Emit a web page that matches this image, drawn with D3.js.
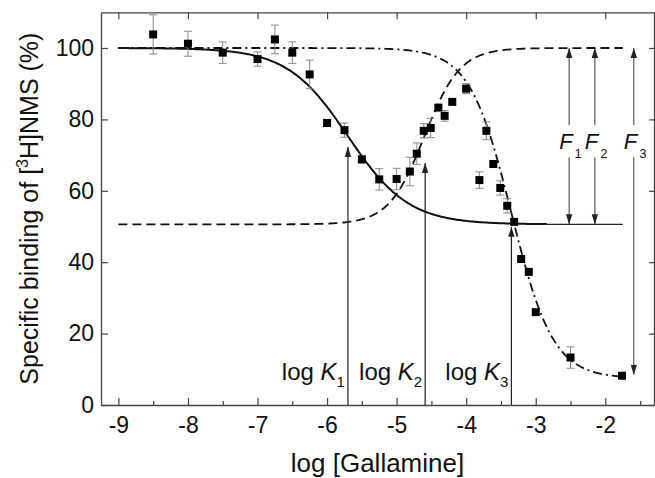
<!DOCTYPE html>
<html><head><meta charset="utf-8">
<script src="https://cdn.jsdelivr.net/npm/d3@7"></script>
<style>
body{margin:0;background:#fff}
svg{display:block}
text{font-family:"Liberation Sans",Arial,sans-serif;fill:#111}
</style>
</head><body>
<svg id="c" width="655" height="478"></svg>
<script>
// ---- data ----
const logConc = [-8.5,-8.0,-7.5,-7.0,-6.75,-6.5,-6.25,-6.0,-5.75,-5.5,-5.25,-5.0,-4.81,-4.71,-4.61,-4.51,-4.40,-4.31,-4.20,-4.0,-3.81,-3.71,-3.61,-3.51,-3.41,-3.31,-3.21,-3.10,-3.0,-2.5,-1.76];
const binding = [103.8,101.2,98.7,96.9,102.4,98.7,92.6,79.0,77.0,68.8,63.2,63.3,65.4,70.4,76.8,77.6,83.3,81.0,84.9,88.6,63.0,76.8,67.5,60.8,55.8,51.3,40.9,37.3,26.0,13.3,8.2];
const sem = [5.5,3.5,3,2,4,3,4,1,2,1,3,3,4,3,2,2.7,0,1.5,0,1.4,2.3,2.5,0,2,2,0,0,0,0,3,0];
const xTicks = [-9,-8,-7,-6,-5,-4,-3,-2];
const xMinor = [-8.5,-7.5,-6.5,-5.5,-4.5,-3.5,-2.5,-1.5];
const yTicks = [0,20,40,60,80,100];
// fitted curves: [top, bottom, logK, slope, xStart, xEnd]
const curveSolid = [100, 50.6, -5.70, 1.0, -9.0, -2.84];
const curveDash  = [50.6, 100, -4.60, 1.7, -9.0, -1.75];
const curveDashDot = [100, 7.5, -3.35, 1.45, -9.0, -1.75];
const kNames = ["1","2","3"];
const logK = [-5.70, -4.59, -3.35];
const kTip = [72.3, 67.8, 49.9];
const fNames = ["1","2","3"];
const fX = [-2.52, -2.15, -1.59];
const fLow = [50.6, 50.6, 8.5];
const fHigh = [100, 100, 100];
const plateau = 50.6;

// ---- layout ----
const svg = d3.select("#c");
const L = 101, R = 654, T = 12.3, B = 405;
const x = d3.scaleLinear().domain([-9.25, -1.30]).range([L, R]);
const y = d3.scaleLinear().domain([0, 110]).range([B, T]);
const frameCol = "#444";
const FONT = "Liberation Sans, Arial, sans-serif";

svg.append("defs").append("marker")
  .attr("id","ah").attr("viewBox","0 0 10 10").attr("refX",10).attr("refY",5)
  .attr("markerWidth",10).attr("markerHeight",10).attr("markerUnits","userSpaceOnUse")
  .attr("orient","auto-start-reverse")
  .append("path").attr("d","M0,1.8 L10,5 L0,8.2 Z").attr("fill","#222");

function styleAxis(g){
  g.selectAll(".domain").attr("stroke",frameCol).attr("stroke-width",1.3);
  g.selectAll(".tick line").attr("stroke",frameCol).attr("stroke-width",1.2);
}
// bottom
const gb = svg.append("g").attr("transform",`translate(0,${B})`)
  .call(d3.axisBottom(x).tickValues(xTicks).tickFormat(d=>String(d)).tickSizeInner(-7).tickSizeOuter(0).tickPadding(12));
styleAxis(gb);
gb.selectAll("text").attr("font-size",23).attr("fill","#111").attr("font-family",FONT);
const gbm = svg.append("g").attr("transform",`translate(0,${B})`)
  .call(d3.axisBottom(x).tickValues(xMinor).tickFormat("").tickSizeInner(-4).tickSizeOuter(0));
styleAxis(gbm); gbm.select(".domain").remove();
// top
const gt = svg.append("g").attr("transform",`translate(0,${T})`)
  .call(d3.axisTop(x).tickValues(xTicks).tickFormat("").tickSizeInner(-7).tickSizeOuter(0));
styleAxis(gt);
// left
const gl = svg.append("g").attr("transform",`translate(${L},0)`)
  .call(d3.axisLeft(y).tickValues(yTicks).tickSizeInner(-7).tickSizeOuter(0).tickPadding(7));
styleAxis(gl);
gl.selectAll("text").attr("font-size",23).attr("fill","#111").attr("font-family",FONT);
// right
const gr = svg.append("g").attr("transform",`translate(${R},0)`)
  .call(d3.axisRight(y).tickValues(yTicks).tickFormat("").tickSizeInner(-5).tickSizeOuter(0));
styleAxis(gr);

// ---- curves ----
function logistic(p){
  const [a,b,k,n,x0,x1] = p;
  return d3.range(0,301).map(i=>{
    const xv = x0 + (x1-x0)*i/300;
    return [xv, b + (a-b)/(1+Math.pow(10,(xv-k)*n))];
  });
}
const line = d3.line().x(d=>x(d[0])).y(d=>y(d[1]));
svg.append("path").attr("d",line(logistic(curveDashDot))).attr("fill","none")
  .attr("stroke","#111").attr("stroke-width",1.8).attr("stroke-dasharray","9,4,2,4");
svg.append("path").attr("d",line(logistic(curveDash))).attr("fill","none")
  .attr("stroke","#111").attr("stroke-width",1.8).attr("stroke-dasharray","9,5");
svg.append("path").attr("d",line(logistic(curveSolid))).attr("fill","none")
  .attr("stroke","#111").attr("stroke-width",2);
// thin plateau reference line
svg.append("line").attr("x1",x(curveSolid[5])).attr("x2",x(-1.75))
  .attr("y1",y(plateau)).attr("y2",y(plateau)).attr("stroke","#222").attr("stroke-width",1.2);

// ---- K arrows ----
logK.forEach((k,i)=>{
  svg.append("line").attr("x1",x(k)).attr("x2",x(k)).attr("y1",B).attr("y2",y(kTip[i]))
    .attr("stroke","#222").attr("stroke-width",1.2).attr("marker-end","url(#ah)");
  const t = svg.append("text").attr("x",x(k)-3).attr("y",380).attr("text-anchor","end").attr("font-size",24);
  t.append("tspan").text("log ");
  t.append("tspan").attr("font-style","italic").text("K");
  t.append("tspan").attr("font-size",15).attr("dy",7).text(kNames[i]);
});

// ---- F arrows ----
fX.forEach((fx,i)=>{
  const gapTop = 78.4, gapBot = 69.4;
  svg.append("line").attr("x1",x(fx)).attr("x2",x(fx)).attr("y1",y(gapTop)).attr("y2",y(fHigh[i]))
    .attr("stroke","#333").attr("stroke-width",1).attr("marker-end","url(#ah)");
  svg.append("line").attr("x1",x(fx)).attr("x2",x(fx)).attr("y1",y(gapBot)).attr("y2",y(fLow[i]))
    .attr("stroke","#333").attr("stroke-width",1).attr("marker-end","url(#ah)");
  const t = svg.append("text").attr("x",x(fx)-10).attr("y",y(71.8)).attr("text-anchor","start").attr("font-size",22);
  t.append("tspan").attr("font-style","italic").text("F");
  t.append("tspan").attr("font-size",13).attr("dy",9).attr("dx",2).text(fNames[i]);
});

// ---- error bars & points ----
const pts = logConc.map((v,i)=>({x:v,y:binding[i],e:sem[i]}));
const eb = svg.append("g").attr("stroke","#888").attr("stroke-width",1);
pts.filter(d=>d.e>0).forEach(d=>{
  const cx = x(d.x);
  eb.append("line").attr("x1",cx).attr("x2",cx).attr("y1",y(d.y+d.e)).attr("y2",y(d.y-d.e));
  eb.append("line").attr("x1",cx-4).attr("x2",cx+4).attr("y1",y(d.y+d.e)).attr("y2",y(d.y+d.e));
  eb.append("line").attr("x1",cx-4).attr("x2",cx+4).attr("y1",y(d.y-d.e)).attr("y2",y(d.y-d.e));
});
svg.append("g").selectAll("rect").data(pts).join("rect")
  .attr("x",d=>x(d.x)-4).attr("y",d=>y(d.y)-4).attr("width",8).attr("height",8)
  .attr("fill","#000");

// ---- titles ----
svg.append("text").attr("x",(L+R)/2).attr("y",472).attr("text-anchor","middle")
  .attr("font-size",26).text("log [Gallamine]");
const yt = svg.append("text").attr("transform",`translate(38,${(T+B)/2}) rotate(-90)`)
  .attr("text-anchor","middle").attr("font-size",25);
yt.append("tspan").text("Specific binding of [");
yt.append("tspan").attr("font-size",16).attr("dy",-10).text("3");
yt.append("tspan").attr("dy",10).text("H]NMS (%)");
</script>
</body></html>
